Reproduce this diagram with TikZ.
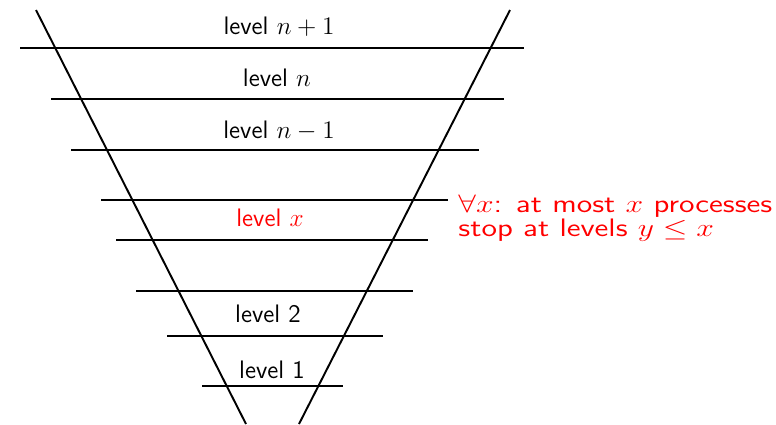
\documentclass[tikz,border=0pt]{standalone}
\usepackage{tikz}
\usetikzlibrary{positioning}

\begin{document}
\begin{tikzpicture}[
  x=0.02cm,y=-0.02cm,
  rung/.style={line width=1.4pt},
  side/.style={line width=1.1pt},
  lvl/.style={font=\sffamily\Large,inner sep=0pt}
]
  \useasboundingbox (0,0) rectangle (776,424);
  % the funnel
  \draw[side] (36,10) -- (246,424);
  \draw[side] (510,10) -- (299,424);

  % the levels
  \draw[rung] (20,48) -- (524,48);
  \draw[rung] (51,99) -- (504,99);
  \draw[rung] (71,150) -- (479,150);
  \draw[rung] (101,200) -- (448,200);
  \draw[rung] (116,240) -- (428,240);
  \draw[rung] (136,291) -- (413,291);
  \draw[rung] (167,336) -- (383,336);
  \draw[rung] (202,386) -- (343,386);

  \node[lvl] (Lnp) at (279,27) {level $n+1$};
  \node[lvl] (Ln) at (277,78) {level $n$};
  \node[lvl] (Lnm) at (279,131) {level $n-1$};
  \node[lvl,red] (Lx) at (270,218) {level $x$};
  \node[lvl] (L2) at (268,314) {level 2};
  \node[lvl] (L1) at (272,370) {level 1};

  \node[lvl,red,anchor=west,align=left,xscale=1.25,transform shape,
    font=\sffamily\fontsize{14.4}{11.4}\selectfont] (claim) at (458,218)
    {$\forall x$: at most $x$ processes\\stop at levels $y\leq x$};
\end{tikzpicture}
\end{document}
